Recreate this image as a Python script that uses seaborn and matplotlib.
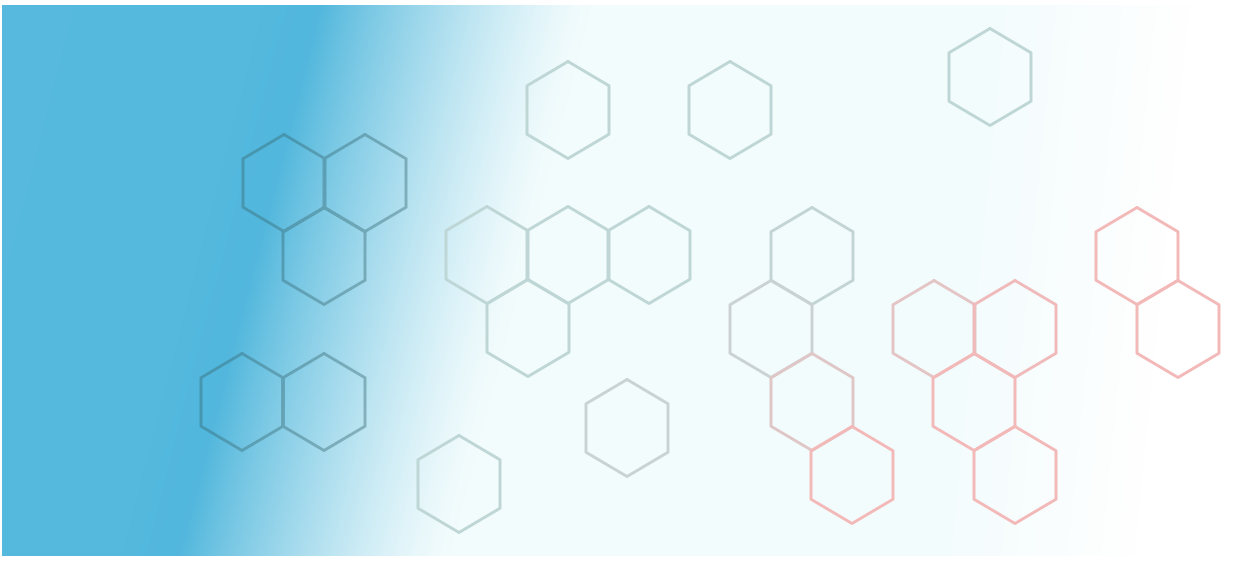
import numpy as np
import pandas as pd
import matplotlib
matplotlib.use("Agg")
import matplotlib.pyplot as plt
from matplotlib.colors import LinearSegmentedColormap
import seaborn as sns

# hexagon centres (pixel coords), grouped by cluster
hex_x = [284, 365, 324,            # cluster A (over the blue)
         242, 324,                 # cluster B (over the blue)
         487, 568, 649, 528,       # cluster C
         568, 730, 990, 627, 459,  # singles
         812, 771, 812, 852,       # cluster D
         934, 1015, 974, 1015,     # cluster E
         1137, 1178]               # cluster F
hex_y = [183, 183, 256,
         402, 402,
         255, 255, 255, 328,
         110, 110, 77, 428, 484,
         256, 329, 402, 475,
         329, 329, 402, 475,
         256, 329]
hex_cluster = ["A", "A", "A", "B", "B",
               "C", "C", "C", "C",
               "S1", "S2", "S3", "S4", "S5",
               "D", "D", "D", "D",
               "E", "E", "E", "E",
               "F", "F"]
on_blue = ["A", "B"]

R = 48.5   # centre to top vertex
HW = 41.0  # half width

sns.set_style("white")

fig = plt.figure(figsize=(12.6, 5.62), dpi=100)
ax = fig.add_axes([0, 0, 1, 1])

# ---- background gradient
x0p, x1p, y0p, y1p = 2, 1246, 5, 556
xx, yy = np.meshgrid(np.arange(x0p, x1p) + 0.5, np.arange(y0p, y1p) + 0.5)
edge = 322 - 142 * (yy - y0p) / (y1p - y0p)
t = np.clip((xx - edge) / 270, 0, 1)
f = 1 - (1 - t) ** 1.3
blue = np.array([86, 185, 221]) / 255
band = 0.05 * np.exp(-((xx - edge + 15) / 40) ** 2)
blue_px = blue[None, None, :] - band[..., None] * np.array([0.25, 0.1, 0.0])
right_edge = 990 - 0.1 * yy
g = np.clip(1 - (xx - right_edge) / 200, 0, 1)
light = 1 - (np.array([12, 3, 2]) / 255)[None, None, :] * g[..., None]
bg = blue_px * (1 - f[..., None]) + light * f[..., None]
ax.imshow(np.clip(bg, 0, 1), extent=[x0p, x1p, y1p, y0p],
          interpolation="bilinear", zorder=0, aspect="auto")

# ---- hexagon outlines
shape_x = np.array([0, HW, HW, 0, -HW, -HW, 0])
shape_y = np.array([-R, -R / 2, R / 2, R, R / 2, -R / 2, -R])

stroke_cmap = LinearSegmentedColormap.from_list(
    "stroke",
    [(0.0, (190/255, 214/255, 213/255)),
     (0.42, (208/255, 208/255, 208/255)),
     (0.8, (232/255, 194/255, 194/255)),
     (1.0, (243/255, 184/255, 184/255))])

rows = []
palette = {}
for i, (cx, cy, cl) in enumerate(zip(hex_x, hex_y, hex_cluster)):
    if cl in on_blue:
        continue
    for vx, vy in zip(shape_x, shape_y):
        rows.append({"hex": i, "x": cx + vx, "y": cy + vy})
    s = (cx + 1.3 * cy - 1100) / 360
    palette[i] = stroke_cmap(np.clip(s, 0, 1))
verts = pd.DataFrame(rows)

sns.lineplot(data=verts, x="x", y="y", hue="hex", units="hex",
             estimator=None, sort=False, palette=palette, legend=False,
             linewidth=2.1, ax=ax, zorder=2)

# the clusters sitting on blue: translucent, one path per cluster
for cl in on_blue:
    px, py = [], []
    for cx, cy, c in zip(hex_x, hex_y, hex_cluster):
        if c != cl:
            continue
        px += list(cx + shape_x) + [np.nan]
        py += list(cy + shape_y) + [np.nan]
    ax.plot(px, py, color=(55/255, 105/255, 115/255), alpha=0.42,
            lw=2.1, solid_joinstyle="miter", zorder=3)

ax.set_xlim(0, 1260)
ax.set_ylim(562, 0)
ax.axis("off")

fig.savefig("out.png", dpi=100, facecolor="white")
